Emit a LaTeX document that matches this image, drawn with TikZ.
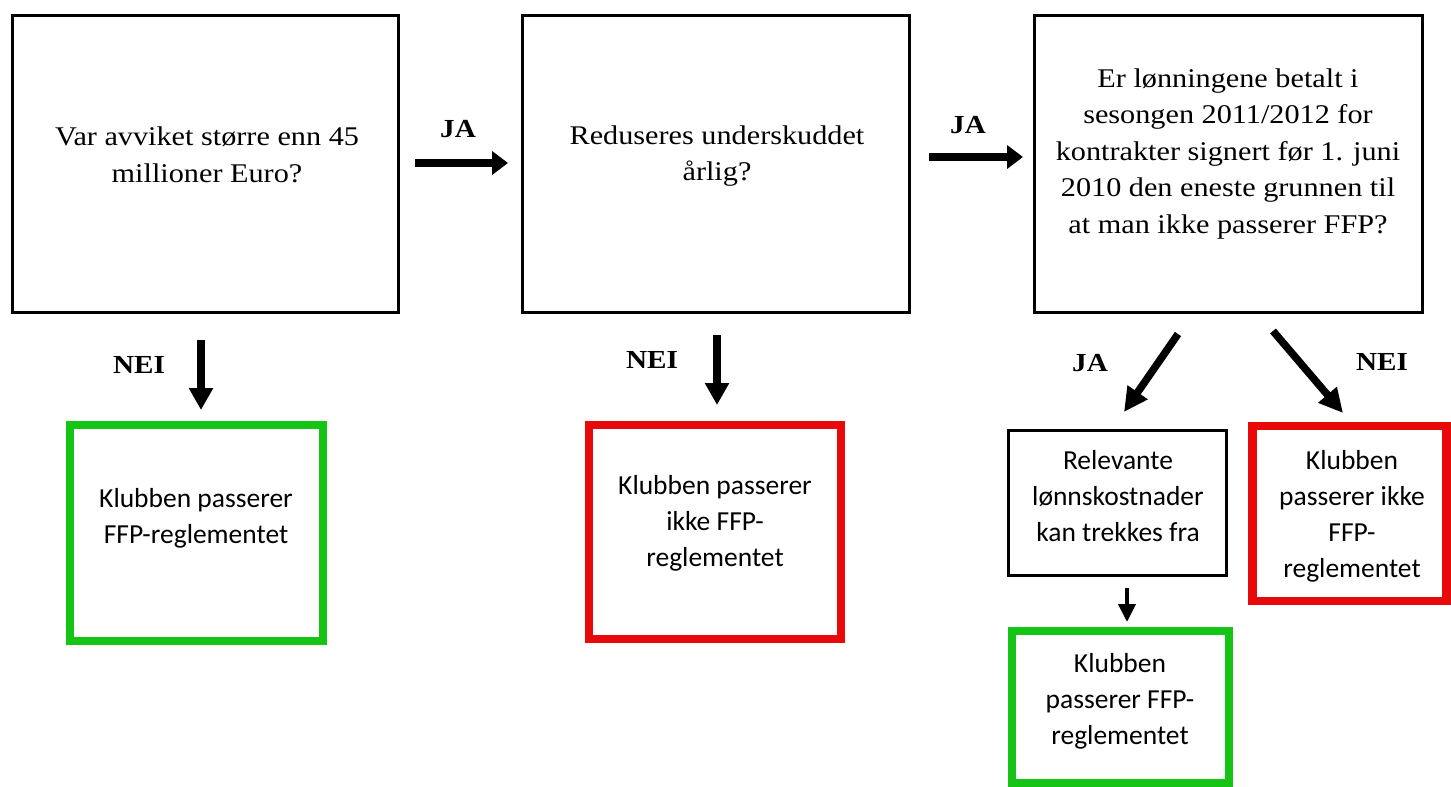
\documentclass[tikz,border=0pt]{standalone}
\usepackage{fontspec}
\setmainfont{Liberation Serif}[FakeStretch=1.12]
\newfontfamily\calfont{Carlito}
\usetikzlibrary{arrows.meta}
\definecolor{okgreen}{RGB}{22,196,22}
\definecolor{nored}{RGB}{232,10,10}
\tikzset{
  qbox/.style={draw=black, line width=3pt, rectangle, inner sep=0pt},
  gbox/.style={draw=okgreen, line width=8pt, rectangle, inner sep=0pt},
  rbox/.style={draw=nored, line width=8.5pt, rectangle, inner sep=0pt},
  sbox/.style={draw=black, line width=2.6pt, rectangle, inner sep=0pt},
  qtext/.style={align=center, font=\fontsize{27}{36.5}\selectfont, inner sep=0pt},
  stext/.style={align=center, font=\calfont\fontsize{27.5}{36}\selectfont, inner sep=0pt},
  lab/.style={font=\bfseries\fontsize{26}{28}\selectfont, inner sep=0pt},
  bigarrow/.style={line width=7.5pt, -{Triangle[length=16pt, width=23pt]}},
  midarrow/.style={line width=7.5pt, -{Triangle[length=22pt, width=23pt]}},
  diagarrow/.style={line width=7.5pt, -{Triangle[length=24pt, width=23pt]}},
  smallarrow/.style={line width=4pt, -{Triangle[length=18pt, width=17pt]}},
}
\begin{document}
\begin{tikzpicture}[x=1pt, y=-1pt]
\useasboundingbox (0,0) rectangle (1451,787);
% question boxes
\node[qbox, minimum width=386pt, minimum height=297pt] (q1) at (205.5,164) {};
\node[qbox, minimum width=387pt, minimum height=297pt] (q2) at (716,164) {};
\node[qbox, minimum width=388pt, minimum height=297pt] (q3) at (1228,164) {};
\node[qtext] (t1) at (207,155) {Var avviket større enn 45\\millioner Euro?};
\node[qtext] (t2) at (717,156) {Reduseres underskuddet\\årlig?};
\node[qtext] (t3) at (1228,154) {Er lønningene betalt i\\sesongen 2011/2012 for\\kontrakter signert før 1. juni\\2010 den eneste grunnen til\\at man ikke passerer FFP?};
% outcome boxes
\node[gbox, minimum width=253pt, minimum height=216pt] (g1) at (196.5,533) {};
\node[stext] (tg1) at (196,518) {Klubben passerer\\FFP-reglementet};
\node[rbox, minimum width=252pt, minimum height=214pt] (r1) at (715,532) {};
\node[stext] (tr1) at (715,523) {Klubben passerer\\ikke FFP-\\reglementet};
\node[sbox, minimum width=218pt, minimum height=145pt] (s1) at (1117.5,503) {};
\node[stext] (ts1) at (1118,496) {Relevante\\lønnskostnader\\kan trekkes fra};
\node[rbox, minimum width=194pt, minimum height=175pt] (r2) at (1349.5,513.5) {};
\node[stext] (tr2) at (1352,516) {Klubben\\passerer ikke\\FFP-\\reglementet};
\node[gbox, minimum width=217pt, minimum height=152pt] (g2) at (1120,707) {};
\node[stext] (tg2) at (1120,701) {Klubben\\passerer FFP-\\reglementet};
% labels
\node[lab] (ja1) at (458,129) {JA};
\node[lab] (ja2) at (968,125) {JA};
\node[lab] (nei1) at (139,365) {NEI};
\node[lab] (nei2) at (652,360) {NEI};
\node[lab] (ja3) at (1090,363) {JA};
\node[lab] (nei3) at (1382,362) {NEI};
% arrow end points
\coordinate (a1s) at (415,163); \coordinate (a1e) at (508,163);
\coordinate (a2s) at (929,157); \coordinate (a2e) at (1023,157);
\coordinate (n1s) at (201,340); \coordinate (n1e) at (201,410);
\coordinate (n2s) at (717,335); \coordinate (n2e) at (717,405);
\coordinate (d1s) at (1178,334); \coordinate (d1e) at (1124,412);
\coordinate (d2s) at (1273,331); \coordinate (d2e) at (1343,413);
\coordinate (ss) at (1127,588); \coordinate (se) at (1127,622);
\draw[bigarrow] (a1s) -- (a1e);
\draw[bigarrow] (a2s) -- (a2e);
\draw[midarrow] (n1s) -- (n1e);
\draw[midarrow] (n2s) -- (n2e);
\draw[diagarrow] (d1s) -- (d1e);
\draw[diagarrow] (d2s) -- (d2e);
\draw[smallarrow] (ss) -- (se);
\end{tikzpicture}
\end{document}
